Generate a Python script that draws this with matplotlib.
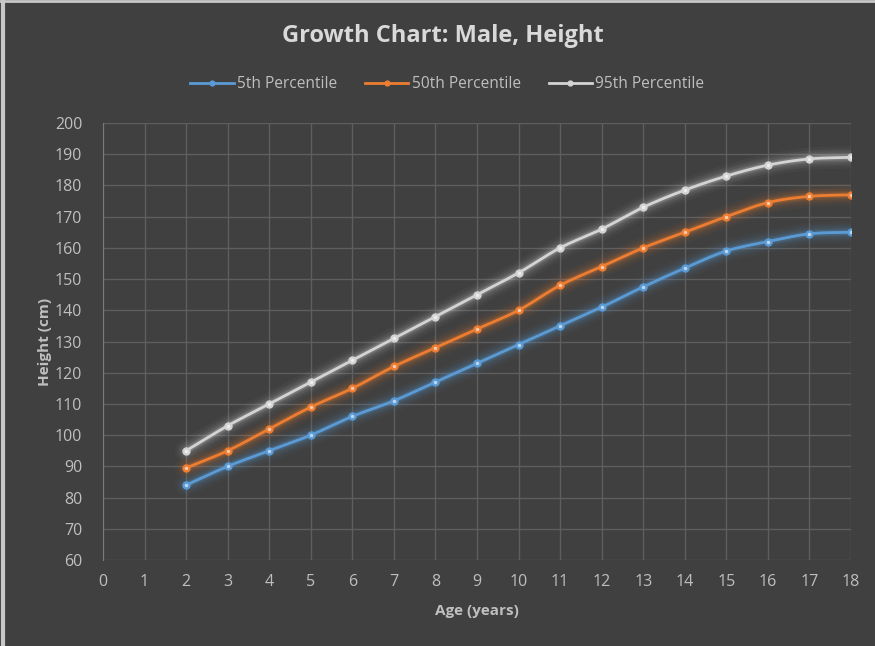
import numpy as np
import matplotlib
matplotlib.use("Agg")
import matplotlib.pyplot as plt
from matplotlib.lines import Line2D

# Age in years and height (cm) percentiles for boys
ages = [2, 3, 4, 5, 6, 7, 8, 9, 10, 11, 12, 13, 14, 15, 16, 17, 18]
p5 = [84, 90, 95, 100, 106, 111, 117, 123, 129, 135, 141, 147.5, 153.5, 159, 162, 164.5, 165]
p50 = [89.5, 95, 102, 109, 115, 122, 128, 134, 140, 148, 154, 160, 165, 170, 174.5, 176.5, 177]
p95 = [95, 103, 110, 117, 124, 131, 138, 145, 152, 160, 166, 173, 178.5, 183, 186.5, 188.5, 189]

series_names = ["5th Percentile", "50th Percentile", "95th Percentile"]
series_colors = ["#5b9bd5", "#ed7d31", "#d4d4d4"]
x_ticks = list(range(0, 19))
y_ticks = list(range(60, 201, 10))

plt.rcParams['font.family'] = ['Open Sans', 'DejaVu Sans']

BG = "#404040"
TXT = "#bfbfbf"


def smooth_curve(x, y, n=20):
    """Catmull-Rom path through the points, for a smoothed line."""
    x = np.asarray(x, float)
    y = np.asarray(y, float)
    px = np.concatenate([[2 * x[0] - x[1]], x, [2 * x[-1] - x[-2]]])
    py = np.concatenate([[2 * y[0] - y[1]], y, [2 * y[-1] - y[-2]]])
    xs, ys = [], []
    t = np.linspace(0, 1, n, endpoint=False)
    for i in range(1, len(px) - 2):
        for arr, out in ((px, xs), (py, ys)):
            p0, p1, p2, p3 = arr[i - 1], arr[i], arr[i + 1], arr[i + 2]
            out.append(0.5 * ((2 * p1) + (-p0 + p2) * t
                              + (2 * p0 - 5 * p1 + 4 * p2 - p3) * t ** 2
                              + (-p0 + 3 * p1 - 3 * p2 + p3) * t ** 3))
    xs.append([x[-1]])
    ys.append([y[-1]])
    return np.concatenate(xs), np.concatenate(ys)


fig = plt.figure(figsize=(8.75, 6.46), dpi=100, facecolor=BG)
ax = fig.add_axes([0.1177, 0.1331, 0.8549, 0.6765], facecolor=BG)

ax.set_xlim(0, 18)
ax.set_ylim(60, 200)
ax.set_xticks(x_ticks)
ax.set_yticks(y_ticks)
ax.grid(True, color="#5e5e5e", linewidth=1.0)
ax.set_axisbelow(True)
for s in ax.spines.values():
    s.set_visible(False)
ax.spines['left'].set_visible(True)
ax.spines['left'].set_color("#7a7a7a")
ax.tick_params(length=0, colors=TXT, labelsize=11.5)
ax.tick_params(axis='y', pad=15)
ax.tick_params(axis='x', pad=10)

for vals, col in zip([p5, p50, p95], series_colors):
    sx, sy = smooth_curve(ages, vals)
    # soft glow beneath the line
    for w, a in [(16, 0.04), (12, 0.06), (9, 0.08), (6, 0.12), (4, 0.18)]:
        ax.plot(sx, sy, color=col, linewidth=w, alpha=a, solid_capstyle='round', zorder=2)
    ax.plot(sx, sy, color=col, linewidth=2.0, zorder=3)
    ax.plot(ages, vals, linestyle='none', marker='o', markersize=5,
            markerfacecolor=col, markeredgecolor=col, zorder=4)
    ax.plot(ages, vals, linestyle='none', marker='o', markersize=2.5,
            markerfacecolor="white", markeredgecolor="none", alpha=0.6, zorder=5)

ax.set_xlabel("Age (years)", color=TXT, fontsize=11, fontweight='bold', labelpad=10)
ax.set_ylabel("Height (cm)", color=TXT, fontsize=11, fontweight='bold', labelpad=2)

fig.text(0.506, 0.944, "Growth Chart: Male, Height", ha='center', va='center',
         color="#d9d9d9", fontsize=17, fontweight='bold')

handles = [Line2D([0], [0], color=c, linewidth=2, marker='o', markersize=3.5)
           for c in series_colors]
leg = fig.legend(handles, series_names, loc='center', bbox_to_anchor=(0.511, 0.870),
                 ncol=3, frameon=False, fontsize=11.2, labelcolor=TXT,
                 handlelength=2.8, handletextpad=0.2, columnspacing=1.8)

# light frame along the left and top edges of the image
fig.add_artist(Line2D([0.003, 0.003], [0, 1], transform=fig.transFigure,
                      color="#c8c8c8", linewidth=3))
fig.add_artist(Line2D([0, 1], [0.998, 0.998], transform=fig.transFigure,
                      color="#c8c8c8", linewidth=2))

fig.savefig("out.png", dpi=100, facecolor=BG)
